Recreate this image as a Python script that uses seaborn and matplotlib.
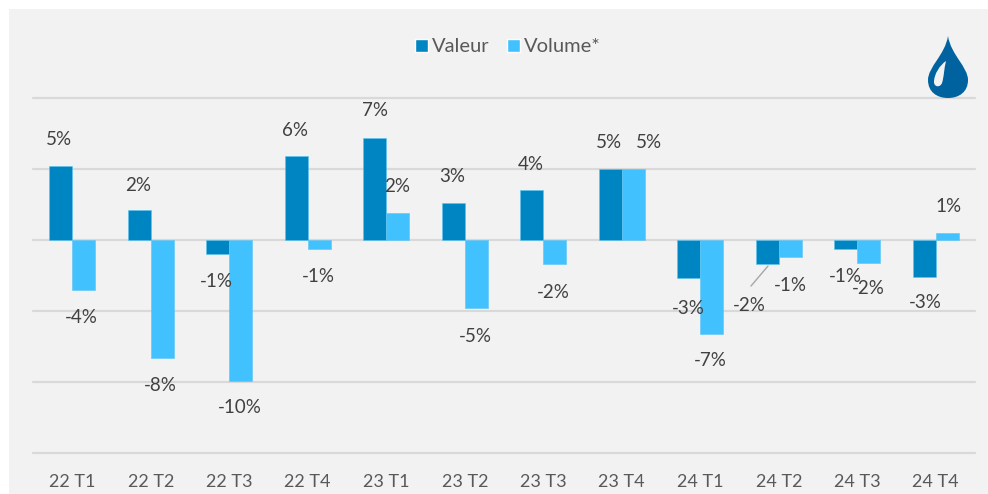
import numpy as np
import pandas as pd
import seaborn as sns
import matplotlib
matplotlib.use("Agg")
import matplotlib.pyplot as plt
from matplotlib.lines import Line2D
from matplotlib.patches import PathPatch, Rectangle
from matplotlib.path import Path
from matplotlib.transforms import Affine2D

W, H = 988, 494

quarters = ['22 T1', '22 T2', '22 T3', '22 T4', '23 T1', '23 T2',
            '23 T3', '23 T4', '24 T1', '24 T2', '24 T3', '24 T4']
valeur = [5.2, 2.1, -1.0, 5.9, 7.2, 2.6, 3.5, 5.0, -2.7, -1.7, -0.6, -2.6]
volume = [-3.5, -8.3, -9.9, -0.6, 1.9, -4.8, -1.7, 5.0, -6.6, -1.2, -1.6, 0.5]
valeur_labels = ['5%', '2%', '-1%', '6%', '7%', '3%', '4%', '5%', '-3%', '-2%', '-1%', '-3%']
volume_labels = ['-4%', '-8%', '-10%', '-1%', '2%', '-5%', '-2%', '5%', '-7%', '-1%', '-2%', '1%']

# label offsets from the bar end, in pixels
valeur_dx = [-2, -1, -1, -1, 0, -1, -1, -1, 0, -18, 0, 1]
valeur_dy = [27, 25, -27, 26, 27, 27, 26, 27, -30, -41, -28, -26]
volume_dx = [-2, -2, -1, -1, -1, -1, -1, 16, -1, 0, 0, 1]
volume_dy = [-28, -28, -27, -28, 27, -28, -28, 27, -27, -28, -26, 26]

BLUE = '#0085C3'
LIGHT = '#41C2FF'

df = pd.DataFrame({
    'quarter': quarters * 2,
    'value': valeur + volume,
    'serie': ['Valeur'] * 12 + ['Volume*'] * 12,
})

sns.set_theme(style='white')
plt.rcParams['font.family'] = ['Lato', 'DejaVu Sans']

fig = plt.figure(figsize=(W / 100, H / 100), dpi=100, facecolor='white')
fig.add_artist(Rectangle((9 / W, 0), (W - 9) / W, (H - 9) / H, transform=fig.transFigure,
                         facecolor='#F2F2F2', edgecolor='none', zorder=-5))

ax = fig.add_axes([33 / W, 1 - 453 / H, 942 / W, 355 / H])
ax.patch.set_alpha(0)

sns.barplot(data=df, x='quarter', y='value', hue='serie', palette=[BLUE, LIGHT], saturation=1,
            width=0.585, gap=0, dodge=True, ax=ax, legend=False, zorder=3,
            edgecolor='#5CC4F0', linewidth=0.4, errorbar=None)

ax.set_xlim(-0.5, 11.5)
ax.set_ylim(-15, 10)
ax.set_yticks(np.arange(-15, 11, 5))
ax.set_yticklabels([])
ax.grid(axis='y', color='#D9D9D9', linewidth=1.6, zorder=0, clip_on=False)
ax.set_axisbelow(True)
ax.set_xlabel('')
ax.set_ylabel('')
sns.despine(ax=ax, left=True, bottom=True)
ax.tick_params(axis='y', length=0)
ax.tick_params(axis='x', length=0, pad=15, labelsize=13, labelcolor='#595959')

# data labels
series = [(ax.containers[0], valeur_labels, valeur_dx, valeur_dy),
          (ax.containers[1], volume_labels, volume_dx, volume_dy)]
for bars, labels, dxs, dys in series:
    for bar, text, dx, dy in zip(bars, labels, dxs, dys):
        x = bar.get_x() + bar.get_width() / 2
        y = bar.get_y() + bar.get_height()
        ax.annotate(text, (x, y), xytext=(dx, dy), textcoords='offset pixels',
                    ha='center', va='center', fontsize=13.5, color='#404040', zorder=5)

# leader line of the 24 T2 label
fig.add_artist(Line2D([768 / W, 751 / W], [1 - 266 / H, 1 - 286 / H], color='#A6A6A6', linewidth=1))

# legend
handles = [Rectangle((0, 0), 1, 1, facecolor=BLUE), Rectangle((0, 0), 1, 1, facecolor=LIGHT)]
fig.legend(handles, ['Valeur', 'Volume*'], ncol=2, loc='center', bbox_to_anchor=(508 / W, 1 - 47 / H),
           frameon=False, fontsize=14.5, labelcolor='#595959', handlelength=0.65, handleheight=0.65,
           handletextpad=0.2, columnspacing=0.85)

# drop icon
drop = Path(
    [(0, -31), (3, -12), (20, 0), (20, 13), (20, 25), (11, 31), (0, 31),
     (-11, 31), (-20, 25), (-20, 13), (-20, 0), (-3, -12), (0, -31), (0, -31)],
    [Path.MOVETO] + [Path.CURVE4] * 12 + [Path.CLOSEPOLY])
shine = Path(
    [(-2, -6), (-8, -2), (-14, 7), (-14, 15), (-14, 20), (-8, 21), (-6, 16),
     (-4, 10), (-4, 2), (-2, -6), (-2, -6)],
    [Path.MOVETO] + [Path.CURVE4] * 9 + [Path.CLOSEPOLY])
# icon is placed in pixels, y pointing down
place = Affine2D().scale(1, -1).translate(948, H - 67)
fig.add_artist(PathPatch(drop, transform=place, facecolor='#0063A0', edgecolor='none'))
fig.add_artist(PathPatch(shine, transform=place, facecolor='#F2F2F2', edgecolor='none'))

fig.savefig('out.png', dpi=100)
